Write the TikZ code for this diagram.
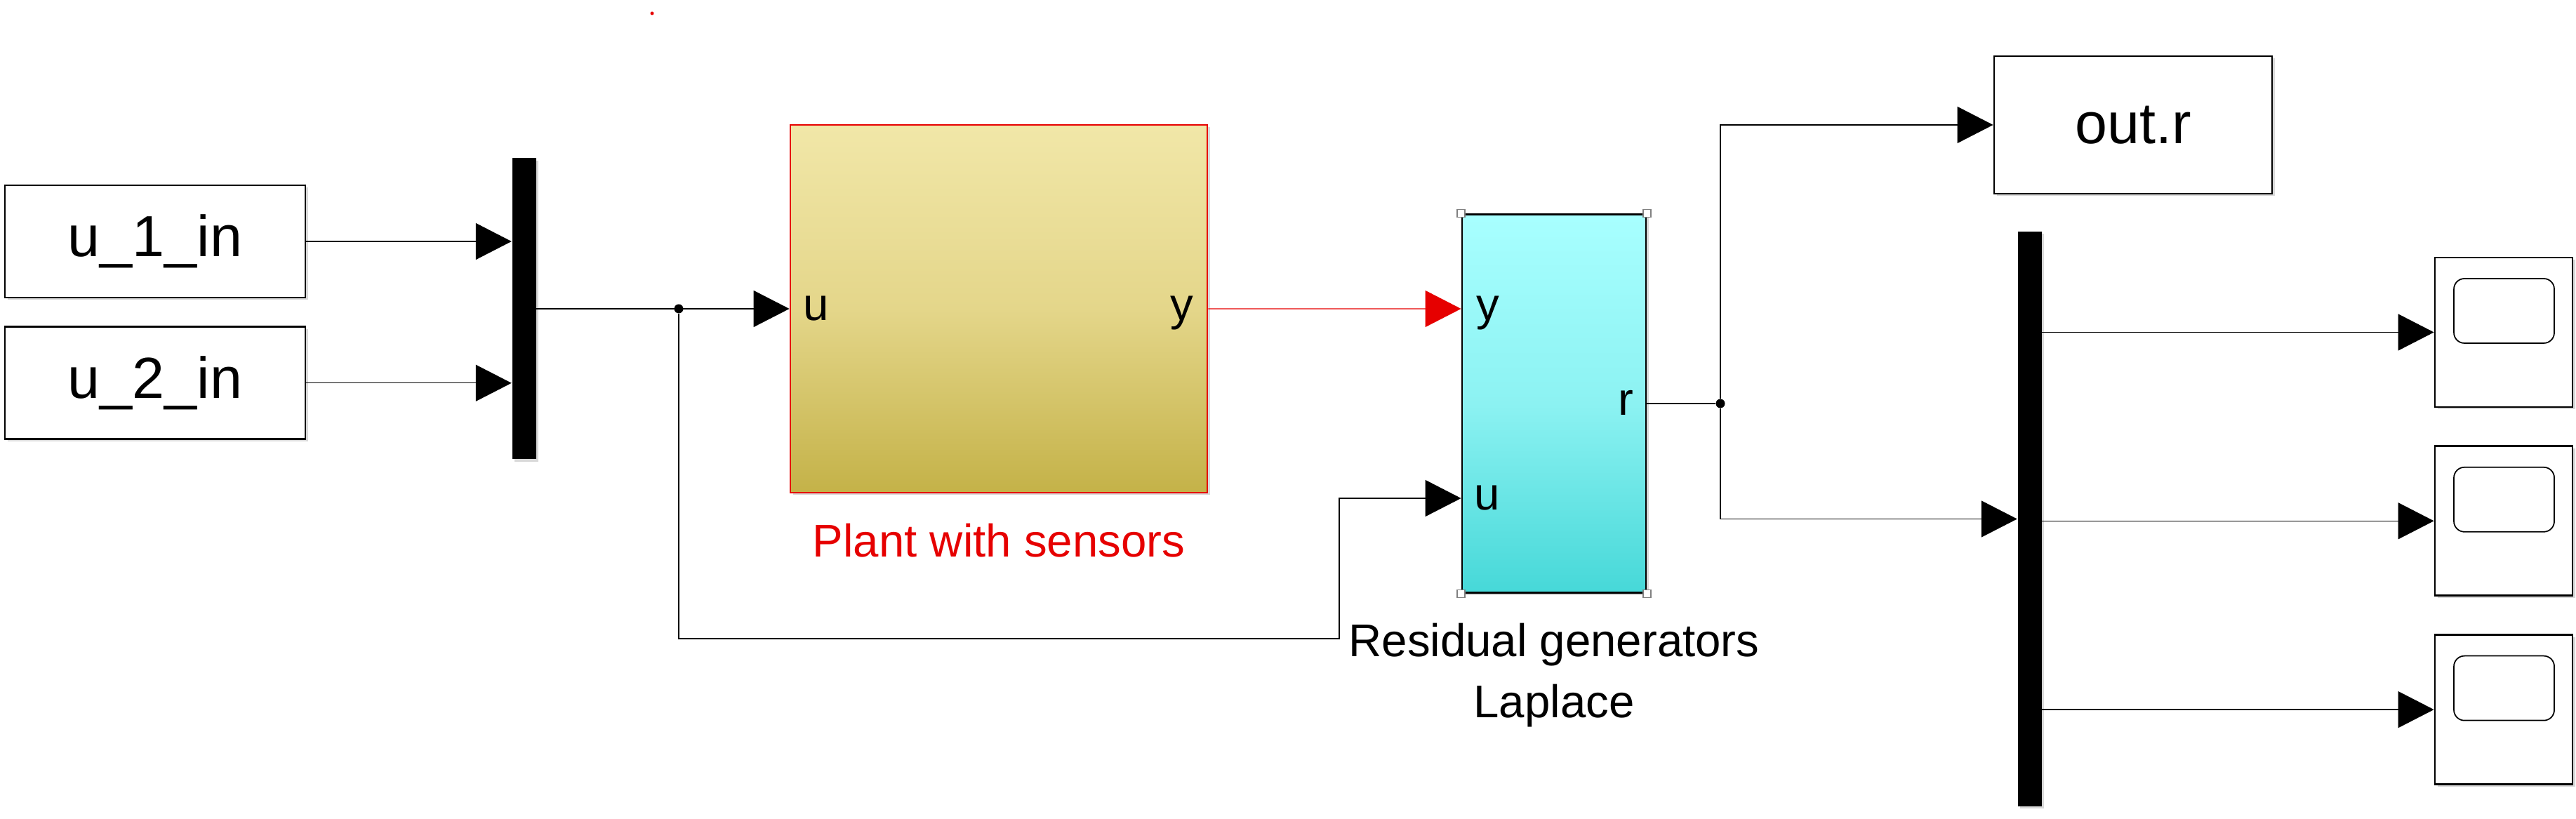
\documentclass[tikz,border=0pt]{standalone}
\usepackage{fontspec}
\setmainfont{Liberation Sans}
\usetikzlibrary{arrows.meta,positioning,shadows}
\definecolor{simred}{RGB}{230,0,0}
\definecolor{planttop}{RGB}{241,231,168}
\definecolor{plantmid}{RGB}{228,214,138}
\definecolor{plantbot}{RGB}{196,178,72}
\definecolor{restop}{RGB}{168,255,255}
\definecolor{resmid}{RGB}{140,242,242}
\definecolor{resbot}{RGB}{70,216,216}
\newcommand{\blockfont}{\fontsize{23.5pt}{28pt}\selectfont}
\newcommand{\portfont}{\fontsize{18.6pt}{24.7pt}\selectfont}
\tikzstyle{shadowed} = [drop shadow={shadow xshift=0.035cm, shadow yshift=-0.035cm, opacity=0.3}]
\tikzstyle{block} = [draw, rectangle, line width=0.8pt, fill=white, shadowed, font=\blockfont, inner sep=0pt]
\tikzstyle{mux} = [rectangle, fill=black, minimum width=0.34cm, inner sep=0pt, shadowed]
\tikzstyle{port} = [font=\portfont, inner sep=0pt, text height=1ex, text depth=0pt, yshift=-0.07cm]
\tikzstyle{caption} = [font=\portfont, inner sep=0pt, align=center]
\tikzstyle{branch} = [circle, fill, inner sep=0pt, minimum size=0.13cm]
\tikzstyle{handle} = [draw=gray, fill=white, rectangle, line width=0.4pt, inner sep=0pt, minimum size=0.11cm]
\tikzstyle{scopebox} = [block, minimum width=1.96cm, minimum height=2.13cm,
  path picture={\draw[line width=0.5pt, rounded corners=0.15cm]
    ([shift={(0.27,-0.30)}]path picture bounding box.north west) rectangle
    ([shift={(-0.26,-1.22)}]path picture bounding box.north east);}]

\begin{document}
\begin{tikzpicture}[>={Triangle[length=0.51cm,width=0.52cm]}, line width=0.4pt]
\useasboundingbox (0,0) rectangle (36.7,11.67);

% inputs and mux
\node [block, minimum width=4.28cm, minimum height=1.60cm] (u1) at (2.21,8.23) {u\_1\_in};
\node [block, minimum width=4.28cm, minimum height=1.60cm, below=0.39cm of u1] (u2) {u\_2\_in};
\node [mux, minimum height=4.29cm] (mux1) at (7.465,7.27) {};
\node [branch] (j1) at (9.67,7.27) {};

% plant
\node [block, draw=simred, top color=planttop, bottom color=plantbot, middle color=plantmid,
       minimum width=5.94cm, minimum height=5.24cm] (plant) at (14.23,7.27) {};
\node [port, anchor=west] (plantu) at ([xshift=0.19cm]plant.west) {u};
\node [port, anchor=east] (planty) at ([xshift=-0.21cm]plant.east) {y};
\node [caption, text=simred, below=0.42cm of plant] (plantlbl) {Plant with sensors};

% residual generators
\node [block, top color=restop, bottom color=resbot, middle color=resmid,
       minimum width=2.62cm, minimum height=5.39cm] (res) at (22.14,5.92) {};
\coordinate (resy) at ([yshift=1.35cm]res.west);
\coordinate (resu) at ([yshift=-1.35cm]res.west);
\node [port, anchor=west] (resylbl) at ([xshift=0.21cm]resy) {y};
\node [port, anchor=west] (resulbl) at ([xshift=0.18cm]resu) {u};
\node [port, anchor=east] (resrlbl) at ([xshift=-0.18cm]res.east) {r};
\node [caption, below=0.42cm of res] (reslbl) {Residual generators\\Laplace};
\node [handle] (hnw) at (res.north west) {};
\node [handle] (hne) at (res.north east) {};
\node [handle] (hsw) at (res.south west) {};
\node [handle] (hse) at (res.south east) {};
\coordinate (fb) at (19.08,2.57);

% outputs
\node [branch] (j2) at (24.51,5.92) {};
\node [block, minimum width=3.96cm, minimum height=1.96cm] (outr) at (30.39,9.89) {out.r};
\node [mux, minimum height=8.19cm] (mux2) at (28.915,4.275) {};
\node [scopebox] (s1) at (35.67,6.935) {};
\node [scopebox, below=0.53cm of s1] (s2) {};
\node [scopebox, below=0.53cm of s2] (s3) {};

\draw [->] (u1.east) -- (u1.east -| mux1.west);
\draw [->] (u2.east) -- (u2.east -| mux1.west);
\draw [->] (mux1.east) -- (plant.west);
\draw [->, simred] (plant.east) -- (resy);
\draw [->] (j1) |- (fb) |- (resu);
\draw (res.east) -- (j2);
\draw [->] (j2) |- (outr.west);
\draw [->] (j2) |- (mux2.west);
\draw [->] (s1.west -| mux2.east) -- (s1.west);
\draw [->] (s2.west -| mux2.east) -- (s2.west);
\draw [->] (s3.west -| mux2.east) -- (s3.west);

\fill [simred] (9.29,11.48) circle (0.025);

\end{tikzpicture}
\end{document}
